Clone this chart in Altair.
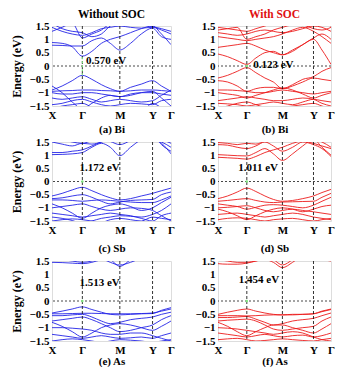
import altair as alt
import pandas as pd

# k-path sample points (fraction of path): X ... Γ ... M ... Y ... Γ
K = [0, 0.085, 0.17, 0.255, 0.335, 0.415, 0.49, 0.57, 0.66, 0.75, 0.845, 0.92, 1.0]
SYM_K = [0.255, 0.57, 0.845]
TICK_K = [0, 0.255, 0.57, 0.845, 1.0]
TICK_LABELS = ["X", "Γ", "M", "Y", "Γ"]
E_TICKS = [-1.5, -1, -0.5, 0, 0.5, 1, 1.5]

# (a) Bi, without SOC
BI_NOSOC = [
    [0.88, 0.85, 0.72, 0.37, 0.55, 0.85, 1.0, 1.1, 1.25, 1.4, 1.5, 1.2, 0.8],
    [0.78, 0.77, 0.75, 0.75, 0.95, 1.05, 0.85, 0.6, 0.85, 1.2, 1.42, 1.1, 1.0],
    [1.45, 1.3, 1.2, 1.15, 1.25, 1.4, 1.45, 1.5, 1.45, 1.42, 1.45, 1.35, 1.2],
    [1.3, 1.45, 1.6, 1.05, 1.2, 1.35, 1.6, 1.7, 1.7, 1.6, 1.55, 1.7, 1.8],
    [1.6, 1.4, 1.3, 1.25, 1.1, 1.2, 1.5, 1.6, 1.65, 1.55, 1.48, 1.4, 1.3],
    [-0.9, -0.75, -0.55, -0.35, -0.5, -0.7, -0.85, -0.95, -0.8, -0.68, -0.55, -0.75, -0.95],
    [-0.95, -0.93, -0.92, -0.9, -0.9, -0.92, -0.93, -0.95, -0.93, -0.9, -0.9, -0.92, -0.95],
    [-0.75, -1.0, -1.35, -1.6, -1.4, -1.2, -1.1, -1.15, -1.1, -1.0, -0.95, -1.2, -1.5],
    [-1.0, -1.05, -1.05, -1.0, -1.0, -1.05, -1.1, -1.15, -1.05, -1.0, -1.0, -1.05, -1.1],
    [-1.2, -1.25, -1.2, -1.15, -1.25, -1.35, -1.3, -1.25, -1.3, -1.35, -1.3, -1.1, -0.9],
    [-1.45, -1.4, -1.3, -1.25, -1.35, -1.45, -1.5, -1.45, -1.4, -1.42, -1.45, -1.3, -1.25],
    [-1.6, -1.5, -1.45, -1.4, -1.55, -1.7, -1.7, -1.6, -1.6, -1.7, -1.4, -1.55, -1.6],
]

# (b) Bi, with SOC
BI_SOC = [
    [0.45, 0.35, 0.2, 0.06, 0.3, 0.5, 0.55, 0.42, 0.6, 0.8, 1.0, 0.6, 0.06],
    [0.7, 0.75, 0.8, 0.85, 0.75, 0.6, 0.5, 0.42, 0.55, 0.8, 1.05, 1.2, 1.0],
    [1.1, 1.05, 1.0, 0.95, 1.0, 1.05, 1.1, 1.2, 1.35, 1.45, 1.3, 1.1, 0.85],
    [1.25, 1.2, 1.15, 1.2, 1.3, 1.35, 1.3, 1.25, 1.3, 1.4, 1.5, 1.45, 1.3],
    [1.45, 1.4, 1.35, 1.3, 1.4, 1.5, 1.6, 1.7, 1.6, 1.55, 1.4, 1.35, 1.45],
    [1.35, 1.4, 1.45, 1.0, 1.1, 1.2, 1.35, 1.45, 1.55, 1.6, 1.65, 1.6, 1.5],
    [-0.45, -0.35, -0.2, -0.06, -0.25, -0.45, -0.6, -0.85, -0.7, -0.5, -0.4, -0.2, -0.06],
    [-0.55, -0.6, -0.75, -0.95, -0.85, -0.8, -0.8, -0.85, -0.75, -0.6, -0.45, -0.5, -0.55],
    [-0.9, -0.9, -0.92, -0.95, -1.0, -1.0, -0.95, -0.9, -0.95, -1.0, -1.05, -1.0, -0.95],
    [-1.0, -1.05, -1.1, -1.2, -1.1, -1.0, -0.9, -0.82, -0.9, -1.05, -1.2, -1.1, -1.0],
    [-1.3, -1.25, -1.2, -1.15, -1.2, -1.25, -1.3, -1.3, -1.25, -1.2, -1.25, -1.4, -1.5],
    [-1.4, -1.42, -1.45, -1.5, -1.45, -1.4, -1.35, -1.4, -1.45, -1.35, -1.25, -1.3, -1.35],
    [-1.6, -1.5, -1.4, -1.35, -1.45, -1.55, -1.6, -1.55, -1.5, -1.45, -1.4, -1.5, -1.6],
]

# (c) Sb, without SOC
SB_NOSOC = [
    [1.1, 1.1, 1.15, 1.2, 1.35, 1.5, 1.6, 1.7, 1.7, 1.6, 1.6, 1.5, 1.3],
    [1.02, 1.03, 1.05, 1.1, 1.3, 1.45, 1.3, 0.98, 1.3, 1.6, 1.8, 1.4, 1.15],
    [1.5, 1.42, 1.35, 1.45, 1.42, 1.5, 1.6, 1.7, 1.8, 1.7, 1.6, 1.45, 1.05],
    [1.7, 1.6, 1.5, 1.45, 1.55, 1.62, 1.52, 1.4, 1.55, 1.7, 1.7, 1.6, 1.45],
    [-0.55, -0.45, -0.32, -0.22, -0.35, -0.5, -0.62, -0.7, -0.65, -0.55, -0.45, -0.35, -0.25],
    [-0.65, -0.62, -0.55, -0.5, -0.6, -0.75, -0.85, -0.78, -0.72, -0.7, -0.68, -0.5, -0.4],
    [-0.7, -0.7, -0.72, -0.75, -0.72, -0.7, -0.72, -0.75, -0.78, -0.8, -0.8, -0.7, -0.55],
    [-0.85, -1.0, -1.2, -1.4, -1.2, -1.0, -0.9, -0.85, -0.95, -1.1, -1.0, -0.8, -0.6],
    [-1.0, -0.95, -0.9, -0.85, -0.95, -1.05, -1.1, -1.05, -1.0, -1.02, -1.1, -1.3, -1.5],
    [-1.2, -1.25, -1.3, -1.35, -1.3, -1.25, -1.2, -1.25, -1.3, -1.4, -1.5, -1.3, -1.2],
    [-1.5, -1.45, -1.42, -1.45, -1.5, -1.55, -1.45, -1.4, -1.45, -1.5, -1.35, -1.4, -1.45],
    [-1.35, -1.4, -1.48, -1.6, -1.5, -1.4, -1.35, -1.3, -1.32, -1.35, -1.25, -1.1, -0.85],
]

# (d) Sb, with SOC
SB_SOC = [
    [0.92, 0.9, 0.88, 0.85, 0.95, 1.1, 1.2, 1.3, 1.45, 1.55, 1.6, 1.5, 1.3],
    [1.02, 1.0, 0.98, 0.97, 1.1, 1.25, 1.05, 0.8, 1.05, 1.35, 1.6, 1.3, 1.0],
    [1.4, 1.38, 1.3, 1.25, 1.35, 1.5, 1.35, 1.15, 1.3, 1.5, 1.4, 1.25, 0.95],
    [1.48, 1.45, 1.4, 1.45, 1.42, 1.55, 1.7, 1.8, 1.7, 1.55, 1.45, 1.35, 1.25],
    [-0.65, -0.55, -0.4, -0.25, -0.38, -0.55, -0.68, -0.75, -0.72, -0.65, -0.55, -0.42, -0.3],
    [-0.75, -0.72, -0.68, -0.65, -0.72, -0.78, -0.8, -0.78, -0.77, -0.76, -0.75, -0.6, -0.45],
    [-0.85, -0.9, -0.95, -1.05, -0.98, -0.9, -0.88, -0.9, -0.95, -1.0, -0.9, -0.75, -0.6],
    [-1.0, -0.98, -0.95, -0.92, -1.0, -1.1, -1.15, -1.1, -1.05, -1.1, -1.15, -1.2, -1.25],
    [-1.05, -1.15, -1.3, -1.45, -1.3, -1.15, -1.05, -1.0, -1.05, -1.15, -1.05, -0.95, -0.9],
    [-1.25, -1.22, -1.2, -1.25, -1.3, -1.35, -1.3, -1.25, -1.2, -1.25, -1.35, -1.4, -1.45],
    [-1.45, -1.4, -1.38, -1.4, -1.45, -1.5, -1.45, -1.42, -1.4, -1.45, -1.5, -1.45, -1.4],
]

# (e) As, without SOC
AS_NOSOC = [
    [1.45, 1.44, 1.42, 1.4, 1.45, 1.55, 1.6, 1.7, 1.7, 1.65, 1.6, 1.6, 1.6],
    [1.6, 1.55, 1.5, 1.45, 1.5, 1.65, 1.55, 1.3, 1.55, 1.8, 1.9, 1.8, 1.7],
    [1.8, 1.75, 1.7, 1.7, 1.75, 1.6, 1.45, 1.35, 1.45, 1.6, 1.7, 1.65, 1.6],
    [-0.45, -0.38, -0.3, -0.22, -0.32, -0.42, -0.5, -0.52, -0.5, -0.48, -0.47, -0.35, -0.25],
    [-0.48, -0.48, -0.47, -0.46, -0.46, -0.47, -0.48, -0.48, -0.48, -0.47, -0.45, -0.38, -0.3],
    [-0.55, -0.55, -0.52, -0.5, -0.6, -0.75, -0.85, -0.8, -0.7, -0.65, -0.6, -0.5, -0.42],
    [-0.75, -0.7, -0.65, -0.6, -0.7, -0.85, -1.0, -1.15, -1.1, -1.0, -0.9, -0.7, -0.55],
    [-0.8, -0.95, -1.15, -1.35, -1.2, -1.0, -0.9, -0.85, -0.9, -1.0, -1.1, -0.95, -0.75],
    [-1.0, -1.0, -1.02, -1.05, -1.1, -1.2, -1.25, -1.25, -1.2, -1.2, -1.3, -1.4, -1.5],
    [-1.25, -1.3, -1.35, -1.4, -1.35, -1.3, -1.35, -1.4, -1.38, -1.35, -1.4, -1.3, -1.2],
    [-1.5, -1.45, -1.42, -1.45, -1.5, -1.55, -1.5, -1.45, -1.47, -1.5, -1.55, -1.5, -1.45],
]

# (f) As, with SOC
AS_SOC = [
    [1.4, 1.38, 1.38, 1.42, 1.5, 1.6, 1.7, 1.7, 1.7, 1.65, 1.6, 1.55, 1.5],
    [1.55, 1.5, 1.45, 1.45, 1.5, 1.55, 1.45, 1.25, 1.45, 1.7, 1.85, 1.8, 1.7],
    [1.7, 1.65, 1.6, 1.55, 1.6, 1.65, 1.55, 1.35, 1.55, 1.8, 1.9, 1.8, 1.75],
    [-0.5, -0.42, -0.35, -0.3, -0.38, -0.45, -0.5, -0.52, -0.5, -0.5, -0.48, -0.38, -0.3],
    [-0.55, -0.55, -0.55, -0.56, -0.55, -0.53, -0.52, -0.52, -0.52, -0.5, -0.48, -0.4, -0.32],
    [-0.62, -0.62, -0.6, -0.58, -0.68, -0.8, -0.9, -0.85, -0.75, -0.7, -0.65, -0.55, -0.45],
    [-0.75, -0.72, -0.7, -0.68, -0.75, -0.9, -1.05, -1.1, -1.05, -1.0, -0.95, -0.75, -0.6],
    [-0.8, -0.95, -1.15, -1.3, -1.15, -1.0, -0.9, -0.9, -1.0, -1.1, -1.2, -1.05, -0.85],
    [-1.0, -1.02, -1.05, -1.1, -1.15, -1.2, -1.25, -1.2, -1.15, -1.2, -1.35, -1.45, -1.5],
    [-1.2, -1.25, -1.3, -1.35, -1.3, -1.25, -1.3, -1.35, -1.3, -1.28, -1.35, -1.3, -1.2],
    [-1.45, -1.42, -1.4, -1.45, -1.5, -1.48, -1.45, -1.42, -1.45, -1.48, -1.5, -1.45, -1.4],
]

GAP_LABELS = ["0.570 eV", "0.123 eV", "1.172 eV", "1.011 eV", "1.513 eV", "1.454 eV"]
GAP_POS_K = [0.455, 0.49, 0.40, 0.355, 0.40, 0.363]
GAP_POS_E = [0.2, 0.03, 0.52, 0.5, 0.66, 0.8]
CAPTIONS = ["(a) Bi", "(b) Bi", "(c) Sb", "(d) Sb", "(e) As", "(f) As"]
# green gap marker at Γ: (lower, upper)
GAP_MARK = [(-0.35, 0.37), (0.0, 0.0), (0.0, 0.0), (0.0, 0.0), (0.0, 0.0), (0.0, 0.0)]

BLUE = "#2424e6"
RED = "#ec1c1c"
FONT = "Liberation Serif"

x_scale = alt.Scale(domain=[0, 1], nice=False, zero=False)
y_scale = alt.Scale(domain=[-1.5, 1.5], nice=False, zero=False)

label_expr_x = ("datum.value < 0.1 ? 'X' : datum.value < 0.4 ? 'Γ' : "
                "datum.value < 0.7 ? 'M' : datum.value < 0.9 ? 'Y' : 'Γ'")
label_expr_y = ("datum.value < 0 ? '\u2212' + format(-datum.value, '~g') : "
                "format(datum.value, '~g')")


def panel(idx, bands, color, width, height, left, cap_pad, top_title=None, top_color="black"):
    rows = []
    for b, vals in enumerate(bands):
        for k, e in zip(K, vals):
            rows.append({"band": b, "k": k, "E": e})
    df = pd.DataFrame(rows)

    xaxis = alt.Axis(values=TICK_K, tickCount=20, labelExpr=label_expr_x, title=CAPTIONS[idx],
                     labelFlush=False, labelOverlap=False, grid=False, ticks=False, domain=False,
                     labelPadding=3, titlePadding=cap_pad,
                     labelFont=FONT, labelFontWeight="bold", labelFontSize=11, labelColor="black",
                     titleFont=FONT, titleFontWeight="bold", titleFontSize=11, titleColor="black")
    yaxis = alt.Axis(values=E_TICKS, tickCount=20, labelExpr=label_expr_y,
                     title="Energy (eV)" if left else None,
                     labelOverlap=False, labelFlush=False,
                     grid=False, ticks=False, domain=False, labelPadding=3, titlePadding=5,
                     labelFont=FONT, labelFontWeight="bold", labelFontSize=11, labelColor="black",
                     titleFont=FONT, titleFontWeight="bold", titleFontSize=12, titleColor="black")

    lines = alt.Chart(df).mark_line(interpolate="monotone", clip=True, color=color,
                                    strokeWidth=0.9).encode(
        x=alt.X("k:Q", scale=x_scale, axis=xaxis),
        y=alt.Y("E:Q", scale=y_scale, axis=yaxis),
        detail="band:N",
    )
    vr = alt.Chart(pd.DataFrame({"k": SYM_K})).mark_rule(
        color="black", strokeDash=[3, 2], strokeWidth=0.8).encode(
        x=alt.X("k:Q", scale=x_scale))
    hr = alt.Chart(pd.DataFrame({"E": [0.0]})).mark_rule(
        color="#333333", strokeDash=[2, 2], strokeWidth=0.9).encode(
        y=alt.Y("E:Q", scale=y_scale))
    lo, hi = GAP_MARK[idx]
    gm_df = pd.DataFrame({"k": [SYM_K[0]], "lo": [lo], "hi": [hi]})
    if hi > lo:
        gm = alt.Chart(gm_df).mark_rule(color="#7fe87f", strokeDash=[2, 2], strokeWidth=1.2).encode(
            x=alt.X("k:Q", scale=x_scale), y=alt.Y("lo:Q", scale=y_scale), y2="hi:Q")
    else:
        gm = alt.Chart(gm_df).mark_point(color="#7fe87f", filled=True, size=6, opacity=1).encode(
            x=alt.X("k:Q", scale=x_scale), y=alt.Y("lo:Q", scale=y_scale))
    txt = alt.Chart(pd.DataFrame({"k": [GAP_POS_K[idx]], "E": [GAP_POS_E[idx]],
                                  "t": [GAP_LABELS[idx]]})).mark_text(
        font=FONT, fontWeight="bold", fontSize=11, color="black", align="center",
        baseline="middle").encode(
        x=alt.X("k:Q", scale=x_scale), y=alt.Y("E:Q", scale=y_scale), text="t:N")

    ch = alt.layer(lines, vr, hr, gm, txt).properties(width=width, height=height)
    if top_title is not None:
        ch = ch.properties(title=alt.TitleParams(top_title, font=FONT, fontWeight="bold",
                                                 fontSize=11.5, color=top_color, offset=0,
                                                 frame="group"))
    return ch


row1 = alt.hconcat(
    panel(0, BI_NOSOC, BLUE, 119, 80, True, 3, "Without SOC", "black"),
    panel(1, BI_SOC, RED, 113, 80, False, 3, "With SOC", "#e01010"),
    spacing=19,
)
row2 = alt.hconcat(
    panel(2, SB_NOSOC, BLUE, 119, 79, True, 7),
    panel(3, SB_SOC, RED, 113, 79, False, 7),
    spacing=19,
)
row3 = alt.hconcat(
    panel(4, AS_NOSOC, BLUE, 119, 80, True, 0),
    panel(5, AS_SOC, RED, 113, 80, False, 0),
    spacing=19,
)

chart = alt.vconcat(row1, row2, row3, spacing=0).properties(
    padding={"left": 2, "top": 0, "right": 0, "bottom": 0}
).configure_view(stroke="black", strokeWidth=1).configure(background="white", font=FONT)

chart.save("out.html", embed_options={"renderer": "svg", "actions": False})
